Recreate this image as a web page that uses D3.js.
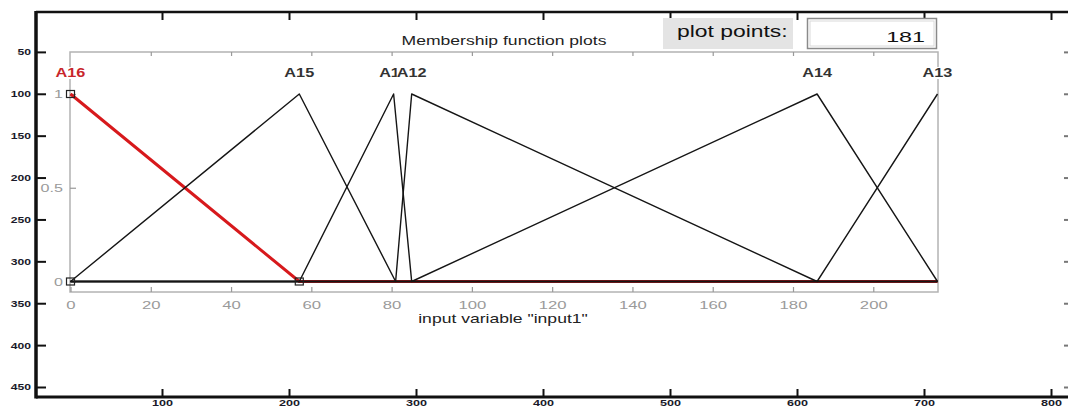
<!DOCTYPE html>
<html>
<head>
<meta charset="utf-8">
<script src="https://cdn.jsdelivr.net/npm/d3@7"></script>
<style>
  html, body { margin: 0; padding: 0; background: #fff; }
  svg text { font-family: "Liberation Sans", Arial, sans-serif; }
</style>
</head>
<body>
<svg id="chart" width="1068" height="408"></svg>
<script>
// outer (image-coordinate) axes
var outerXTicks = [100, 200, 300, 400, 500, 600, 700, 800];
var outerYTicks = [50, 100, 150, 200, 250, 300, 350, 400, 450];

// inner membership function plot
var inputRange = [0, 216];
var inputTicks = [0, 20, 40, 60, 80, 100, 120, 140, 160, 180, 200];
var degreeTicks = [0, 0.5, 1];
var degreeLabels = ["0", "0.5", "1"];

// triangular membership functions: [a, b, c]
var mfNames = ["A15", "A11", "A12", "A14", "A13", "A16"];
var mfA = [0, 57, 81, 85, 186, 0];
var mfB = [57, 80.5, 85, 186, 216, 0];
var mfC = [81, 85, 186, 216, 216, 57];
var selectedMf = "A16";
var plotPoints = 181;

var svg = d3.select('#chart');

var xo = d3.scaleLinear().domain([0, 800]).range([35, 1051]);
var yo = d3.scaleLinear().domain([0, 450]).range([10, 387]);

var xi = d3.scaleLinear().domain(inputRange).range([70.5, 937.5]);
var yi = d3.scaleLinear().domain([0, 1]).range([281.5, 94]);

// stretch text horizontally, the source picture is widened
function stretch(sel, k) {
  sel.each(function() {
    var w = this.getComputedTextLength();
    this.setAttribute('textLength', w * k);
    this.setAttribute('lengthAdjust', 'spacingAndGlyphs');
  });
}

// ---- outer axes ----
var axLeft = svg.append('g')
  .attr('transform', 'translate(36,0)')
  .call(d3.axisLeft(yo).tickValues(outerYTicks).tickSizeInner(-10).tickSizeOuter(0).tickPadding(5));
var axBottom = svg.append('g')
  .attr('transform', 'translate(0,397)')
  .call(d3.axisBottom(xo).tickValues(outerXTicks).tickSizeInner(-8).tickSizeOuter(0).tickPadding(3));
var axTop = svg.append('g')
  .attr('transform', 'translate(0,12)')
  .call(d3.axisTop(xo).tickValues(outerXTicks).tickSizeInner(-8).tickSizeOuter(0).tickFormat(''));
var axRight = svg.append('g')
  .attr('transform', 'translate(1068,0)')
  .call(d3.axisRight(yo).tickValues(outerYTicks).tickSizeInner(-4).tickSizeOuter(0).tickFormat(''));

[axLeft, axBottom, axTop, axRight].forEach(function(g) {
  g.select('.domain').remove();
  g.selectAll('.tick line').attr('stroke', '#111').attr('stroke-width', 2);
  g.selectAll('.tick text')
    .attr('fill', '#1a1a2a')
    .attr('font-size', 9)
    .attr('font-weight', 'bold');
});
axRight.selectAll('.tick line').attr('stroke', '#777');
axBottom.selectAll('.tick text').attr('dy', '0.7em');
stretch(axLeft.selectAll('.tick text'), 1.35);
stretch(axBottom.selectAll('.tick text'), 1.4);

svg.append('line').attr('x1', 36).attr('x2', 1068).attr('y1', 12).attr('y2', 12)
  .attr('stroke', '#111').attr('stroke-width', 2.5);
svg.append('line').attr('x1', 36).attr('x2', 1068).attr('y1', 397).attr('y2', 397)
  .attr('stroke', '#111').attr('stroke-width', 3);
svg.append('line').attr('x1', 36).attr('x2', 36).attr('y1', 11).attr('y2', 398.5)
  .attr('stroke', '#111').attr('stroke-width', 3.5);

// ---- plot points box ----
svg.append('rect').attr('x', 663).attr('y', 18).attr('width', 130).attr('height', 31)
  .attr('fill', '#e4e4e4');
var pp = svg.append('text').attr('x', 677).attr('y', 37)
  .attr('font-size', 16).attr('fill', '#111').text('plot points:');
stretch(pp, 1.43);
svg.append('rect').attr('x', 807.5).attr('y', 18.5).attr('width', 129).attr('height', 30)
  .attr('fill', '#fff').attr('stroke', '#8a8a8a').attr('stroke-width', 1.5);
svg.append('rect').attr('x', 810).attr('y', 21).attr('width', 124).attr('height', 25)
  .attr('fill', 'none').attr('stroke', '#dadada').attr('stroke-width', 1);
var ppv = svg.append('text').attr('x', 925).attr('y', 42).attr('text-anchor', 'end')
  .attr('font-size', 15.5).attr('fill', '#111').text(plotPoints);
stretch(ppv, 1.5);

// ---- inner plot ----
var title = svg.append('text').attr('x', 504).attr('y', 45).attr('text-anchor', 'middle')
  .attr('font-size', 13).attr('fill', '#222').text('Membership function plots');
stretch(title, 1.35);

svg.append('rect')
  .attr('x', xi(inputRange[0]) - 0.5).attr('y', 52)
  .attr('width', xi(inputRange[1]) - xi(inputRange[0]) + 1).attr('height', 240)
  .attr('fill', 'none').attr('stroke', '#b3b3b3').attr('stroke-width', 1.5);

var ib = svg.append('g').attr('transform', 'translate(0,292)')
  .call(d3.axisBottom(xi).tickValues(inputTicks).tickSizeInner(-5).tickSizeOuter(0).tickPadding(9));
var it = svg.append('g').attr('transform', 'translate(0,52)')
  .call(d3.axisTop(xi).tickValues(inputTicks.slice(1)).tickSizeInner(-4).tickSizeOuter(0).tickFormat(''));
var il = svg.append('g').attr('transform', 'translate(70,0)')
  .call(d3.axisLeft(yi).tickValues(degreeTicks).tickSizeInner(-6).tickSizeOuter(0).tickPadding(7)
    .tickFormat(function(d, i) { return degreeLabels[i]; }));
[ib, it, il].forEach(function(g) {
  g.select('.domain').remove();
  g.selectAll('.tick line').attr('stroke', '#999').attr('stroke-width', 1.2);
  g.selectAll('.tick text').attr('fill', '#9a9a9a').attr('font-size', 11.5);
});
stretch(ib.selectAll('.tick text'), 1.45);
stretch(il.selectAll('.tick text'), 1.4);

var xlab = svg.append('text').attr('x', 503).attr('y', 323).attr('text-anchor', 'middle')
  .attr('font-size', 13).attr('fill', '#222').text('input variable "input1"');
stretch(xlab, 1.35);

// vertices of each triangle, across the whole input range
function mfPoints(i) {
  var a = mfA[i], b = mfB[i], c = mfC[i];
  var pts = [];
  if (a > b - 1e-9) {
    pts.push([b, 1]);
  } else {
    pts.push([inputRange[0], 0], [a, 0], [b, 1]);
  }
  if (c > b + 1e-9) {
    pts.push([c, 0], [inputRange[1], 0]);
  }
  return pts;
}

var line = d3.line().x(function(d) { return xi(d[0]); }).y(function(d) { return yi(d[1]); });
var sel = mfNames.indexOf(selectedMf);

// selected mf underneath, black ones on top of the zero line
svg.append('path').datum(mfPoints(sel)).attr('d', line)
  .attr('fill', 'none').attr('stroke', '#d7191c').attr('stroke-width', 3);

mfNames.forEach(function(name, i) {
  if (i === sel) return;
  svg.append('path').datum(mfPoints(i)).attr('d', line)
    .attr('fill', 'none').attr('stroke', '#151515').attr('stroke-width', 1.4)
    .attr('stroke-linejoin', 'round');
});

// handles on the selected mf
var handles = [[mfA[sel], 0], [mfB[sel], 1], [mfC[sel], 0]];
svg.selectAll('rect.handle').data(handles).enter().append('rect')
  .attr('class', 'handle')
  .attr('x', function(d) { return xi(d[0]) - 4; })
  .attr('y', function(d) { return yi(d[1]) - 3.5; })
  .attr('width', 8).attr('height', 7)
  .attr('fill', 'none').attr('stroke', '#222').attr('stroke-width', 1.2);

// labels over the peaks, each on a white patch like the matlab text boxes
mfNames.forEach(function(name, i) {
  var g = svg.append('g');
  var bg = g.append('rect').attr('fill', '#fff');
  var t = g.append('text')
    .attr('x', xi(mfB[i])).attr('y', 77)
    .attr('text-anchor', 'middle')
    .attr('font-size', 12.5).attr('font-weight', 'bold')
    .attr('fill', i === sel ? '#c8262b' : '#333')
    .text(name);
  stretch(t, 1.3);
  var w = t.node().getComputedTextLength();
  bg.attr('x', xi(mfB[i]) - w / 2).attr('y', 67)
    .attr('width', w).attr('height', 12);
});
</script>
</body>
</html>
